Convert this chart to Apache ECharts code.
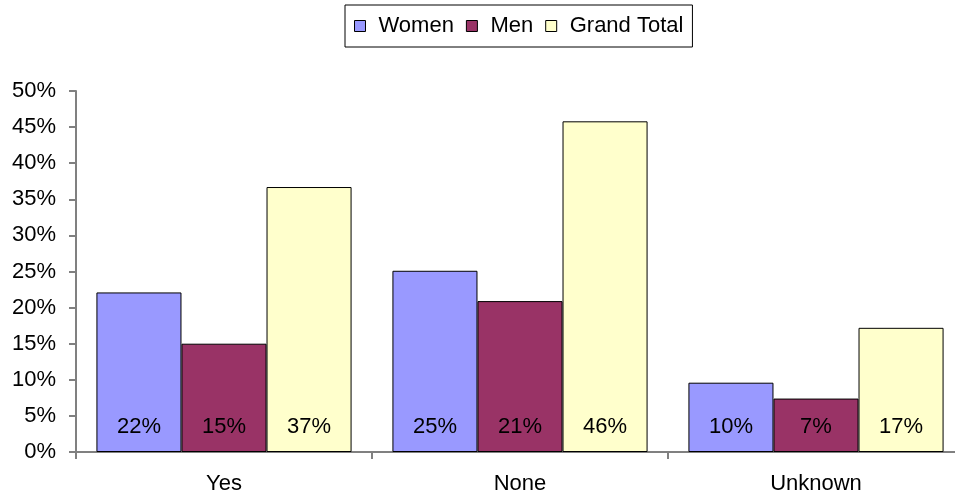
<!DOCTYPE html>
<html>
<head>
<meta charset="utf-8">
<script src="https://cdn.jsdelivr.net/npm/echarts@6/dist/echarts.min.js"></script>
<style>
  html, body { margin: 0; padding: 0; background: #fff; }
  #chart { width: 955px; height: 496px; }
</style>
</head>
<body>
<div id="chart"></div>
<script>
  // categories and values (percent)
  var categories = ['Yes', 'None', 'Unknown'];
  var women = [22.1, 25.1, 9.6];
  var men = [15.0, 20.9, 7.4];
  var grandTotal = [36.7, 45.8, 17.2];
  var yTicks = [0, 5, 10, 15, 20, 25, 30, 35, 40, 45, 50];

  var font = 'Liberation Sans, Arial, sans-serif';

  function barSeries(name, data, color) {
    return {
      name: name,
      type: 'bar',
      data: data,
      barGap: '0%',
      barCategoryGap: '13.8%',
      itemStyle: { color: color, borderColor: '#000', borderWidth: 1 },
      label: {
        show: true,
        position: 'insideBottom',
        distance: 14,
        color: '#000',
        fontSize: 22,
        fontFamily: font,
        formatter: function (p) { return Math.round(p.value) + '%'; }
      }
    };
  }

  var myChart = echarts.init(document.getElementById('chart'));
  myChart.setOption({
    animation: false,
    legend: {
      top: 5,
      left: 345,
      padding: [10, 9, 10, 9],
      borderColor: '#000',
      borderWidth: 1,
      itemWidth: 11,
      itemHeight: 11,
      itemGap: 12,
      icon: 'rect',
      itemStyle: { borderColor: '#000', borderWidth: 1 },
      textStyle: { fontSize: 22, fontFamily: font, color: '#000', padding: [0, 0, 0, 8] },
      data: ['Women', 'Men', 'Grand Total']
    },
    grid: { left: 76, right: -9, top: 91, bottom: 44, outerBoundsMode: 'none' },
    xAxis: {
      type: 'category',
      data: categories,
      axisLine: { lineStyle: { color: '#808080', width: 2 } },
      axisTick: { show: true, inside: false, length: 7, lineStyle: { color: '#808080', width: 2 } },
      axisLabel: { fontSize: 22, fontFamily: font, color: '#000', margin: 21 }
    },
    yAxis: {
      type: 'value',
      min: 0,
      max: 50,
      interval: 5,
      splitLine: { show: false },
      axisLine: { show: true, lineStyle: { color: '#808080', width: 2 } },
      axisTick: { show: true, length: 7, lineStyle: { color: '#808080', width: 2 } },
      axisLabel: {
        fontSize: 22, fontFamily: font, color: '#000', margin: 20,
        formatter: function (v) { return yTicks.indexOf(v) >= 0 ? v + '%' : ''; }
      }
    },
    series: [
      barSeries('Women', women, '#9999FF'),
      barSeries('Men', men, '#993366'),
      barSeries('Grand Total', grandTotal, '#FFFFCC')
    ]
  });
</script>
</body>
</html>
